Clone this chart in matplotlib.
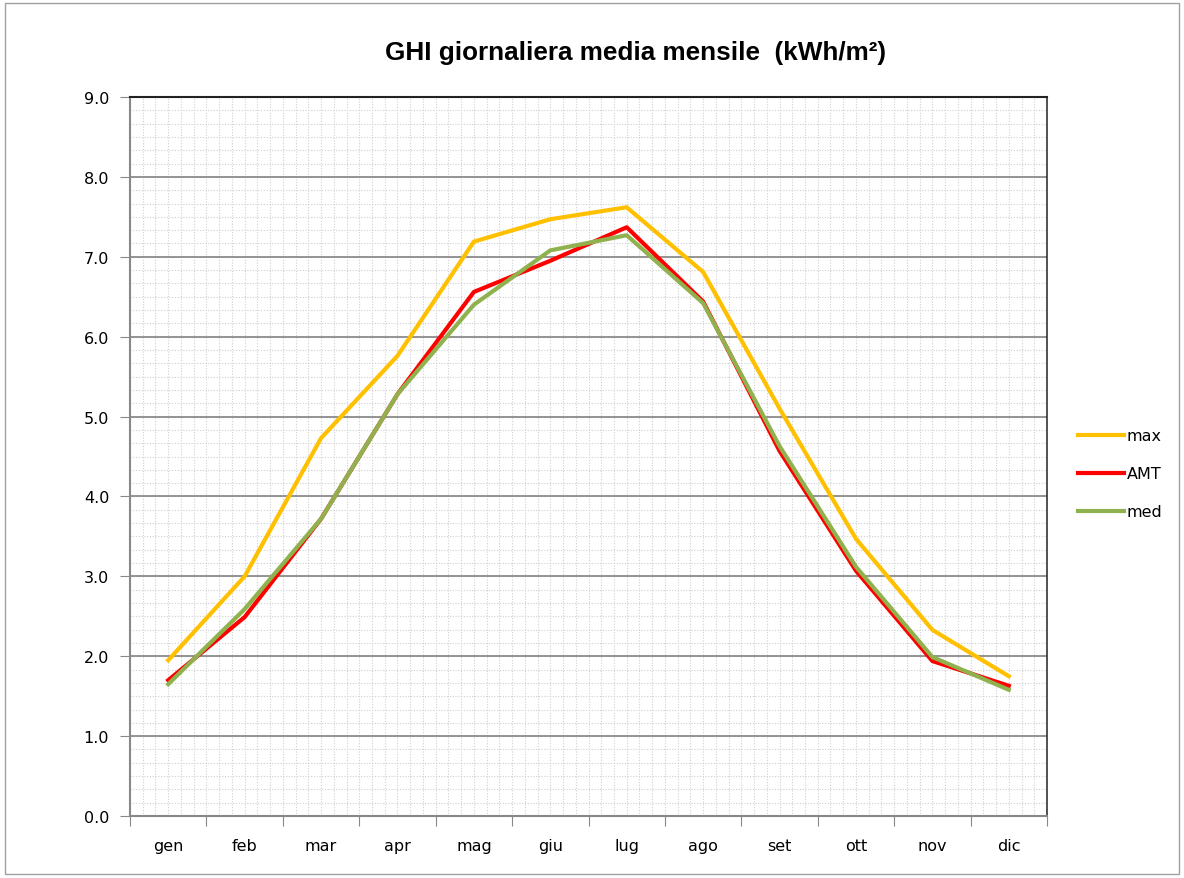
import numpy as np
import matplotlib
matplotlib.use("Agg")
import matplotlib.pyplot as plt
from matplotlib.patches import Rectangle

months = ['gen', 'feb', 'mar', 'apr', 'mag', 'giu', 'lug', 'ago', 'set', 'ott', 'nov', 'dic']
ghi_max = [1.95, 3.00, 4.73, 5.76, 7.19, 7.47, 7.62, 6.81, 5.10, 3.47, 2.33, 1.75]
ghi_amt = [1.70, 2.49, 3.72, 5.28, 6.56, 6.95, 7.37, 6.44, 4.57, 3.07, 1.94, 1.63]
ghi_med = [1.65, 2.59, 3.72, 5.28, 6.40, 7.08, 7.27, 6.42, 4.63, 3.12, 1.99, 1.58]

fig = plt.figure(figsize=(11.84, 8.79), dpi=100)
ax = fig.add_axes([0.1098, 0.0705, 0.7745, 0.818])

# outer chart border
fig.patches.append(Rectangle((0.004, 0.004), 0.992, 0.992, transform=fig.transFigure,
                             fill=False, edgecolor='#a0a0a0', linewidth=1))

x = np.arange(len(months))
ax.set_xlim(-0.5, len(months) - 0.5)
ax.set_ylim(0, 9)

# dotted minor grid
for gx in np.arange(-0.5, len(months) - 0.5, 1 / 6)[1:]:
    ax.axvline(gx, color='#d0d0d0', linestyle=(0, (1, 1.5)), linewidth=0.8, zorder=0)
for gy in np.arange(0, 9, 1 / 6)[1:]:
    ax.axhline(gy, color='#d0d0d0', linestyle=(0, (1, 1.5)), linewidth=0.8, zorder=0)
for gy in range(1, 9):
    ax.axhline(gy, color='#8c8c8c', linewidth=1.3, zorder=1)

ax.plot(x, ghi_max, color='#FFC000', linewidth=3, label='max', zorder=3)
ax.plot(x, ghi_amt, color='#FF0000', linewidth=3, label='AMT', zorder=4)
ax.plot(x, ghi_med, color='#8FB24E', linewidth=3, label='med', zorder=5)

ax.set_yticks(np.arange(0, 10, 1))
ax.set_yticklabels(['%.1f' % v for v in range(10)])
ax.set_xticks(np.arange(-0.5, len(months), 1))
ax.set_xticklabels([])
ax.set_xticks(x, minor=True)
ax.set_xticklabels(months, minor=True)
ax.tick_params(axis='x', which='major', length=7, color='#888888')
ax.tick_params(axis='x', which='minor', length=0, pad=16, labelsize=11.5)
ax.tick_params(axis='y', length=7, color='#888888', labelsize=11.5, pad=8)

for side in ['left', 'bottom']:
    ax.spines[side].set_color('#888888')
    ax.spines[side].set_linewidth(1.5)
ax.spines['top'].set_color('#222222')
ax.spines['top'].set_linewidth(1.5)
ax.spines['right'].set_color('#333333')
ax.spines['right'].set_linewidth(1.2)

fig.text(0.537, 0.94, 'GHI giornaliera media mensile  (kWh/m²)',
         ha='center', va='center', fontsize=18.8, fontweight='bold', family='Liberation Sans')

ax.legend(loc='center left', bbox_to_anchor=(1.018, 0.476), frameon=False,
          handlelength=2.9, handletextpad=0.15, labelspacing=1.45, fontsize=11.5)

fig.savefig('out.png', dpi=100)
